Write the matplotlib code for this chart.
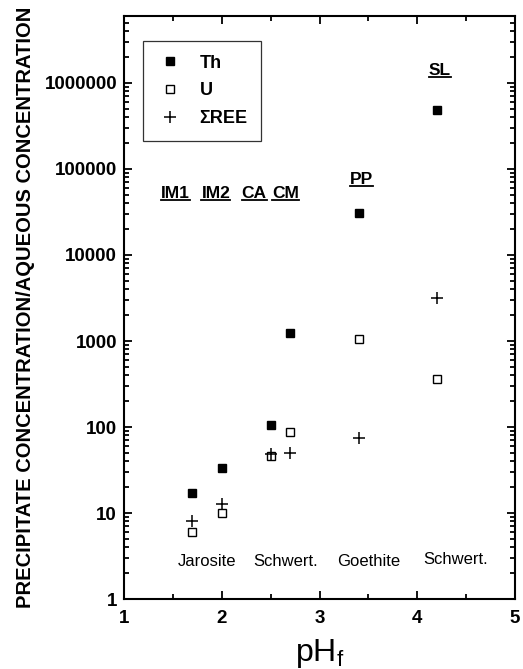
import matplotlib
matplotlib.use("Agg")
import matplotlib.pyplot as plt
from matplotlib.ticker import LogLocator, NullFormatter, FixedLocator
from matplotlib.lines import Line2D

plt.rcParams['font.family'] = ['Liberation Sans', 'DejaVu Sans']
plt.rcParams['mathtext.fontset'] = 'custom'
plt.rcParams['mathtext.rm'] = 'Liberation Sans'
plt.rcParams['mathtext.it'] = 'Liberation Sans:italic'
plt.rcParams['mathtext.bf'] = 'Liberation Sans:bold'

# Final pH of each sample
ph = [1.7, 2.0, 2.5, 2.7, 3.4, 4.2]
# Precipitate / aqueous concentration ratios
th = [17, 33, 106, 1250, 30500, 480000]
u = [6, 10, 46, 87, 1060, 363]
ree = [8.1, 12.7, 49, 50, 74, 3180]

sample_names = ["IM1", "IM2", "CA", "CM", "PP", "SL"]
sample_x = [1.53, 1.94, 2.33, 2.65, 3.43, 4.23]
sample_y = [52000, 52000, 52000, 52000, 76000, 1380000]

minerals = ["Jarosite", "Schwert.", "Goethite", "Schwert."]
mineral_x = [1.85, 2.65, 3.5, 4.39]
mineral_y = [2.72, 2.72, 2.72, 2.85]

fig = plt.figure(figsize=(5.23, 6.69), dpi=100)
ax = fig.add_axes([0.2371, 0.1046, 0.7476, 0.8714])

ax.plot(ph, th, linestyle='none', marker='s', markersize=5.8, color='black',
        markerfacecolor='black', label='Th')
ax.plot(ph, u, linestyle='none', marker='s', markersize=5.6, color='black',
        markerfacecolor='white', markeredgewidth=1.0, label='U')
ax.plot(ph, ree, linestyle='none', marker='+', markersize=9, color='black',
        markeredgewidth=1.1, label='\u03a3REE')

ax.set_yscale('log')
ax.set_xlim(1, 5)
ax.set_ylim(1, 6e6)

ax.xaxis.set_major_locator(FixedLocator([1, 2, 3, 4, 5]))
ax.xaxis.set_minor_locator(FixedLocator([1.5, 2.5, 3.5, 4.5]))
ax.yaxis.set_major_locator(LogLocator(base=10, numticks=20))
ax.yaxis.set_minor_locator(LogLocator(base=10, subs=range(2, 10), numticks=20))
ax.yaxis.set_minor_formatter(NullFormatter())
ax.set_yticks([1, 10, 100, 1000, 10000, 100000, 1000000])
ax.set_yticklabels(['1', '10', '100', '1000', '10000', '100000', '1000000'])

for s in ax.spines.values():
    s.set_linewidth(1.5)
ax.tick_params(which='both', direction='in', top=True, right=True, width=1.3)
ax.tick_params(which='major', length=6)
ax.tick_params(which='minor', length=3.5)
ax.tick_params(axis='both', which='major', labelsize=13.5)
ax.tick_params(axis='x', which='major', pad=8)
ax.tick_params(axis='y', which='major', pad=5)
for lab in ax.get_xticklabels() + ax.get_yticklabels():
    lab.set_fontweight('bold')

ax.set_xlabel('pH$_\\mathregular{f}$', fontsize=23, labelpad=7)
ax.set_ylabel('PRECIPITATE CONCENTRATION/AQUEOUS CONCENTRATION',
              fontsize=14.5, fontweight='bold', labelpad=7)

leg = ax.legend(loc='upper left', bbox_to_anchor=(0.048, 0.957),
                frameon=True, fancybox=False, edgecolor='black',
                prop={'weight': 'bold', 'size': 13}, handlelength=1.5,
                handletextpad=0.9, borderpad=0.75, labelspacing=0.6,
                borderaxespad=0)
leg.get_frame().set_linewidth(0.9)

name_texts = []
for name, x, y in zip(sample_names, sample_x, sample_y):
    t = ax.text(x, y, name, ha='center', va='center', fontsize=12.5,
                fontweight='bold')
    name_texts.append(t)

for name, x, y in zip(minerals, mineral_x, mineral_y):
    ax.text(x, y, name, ha='center', va='center', fontsize=12)

# underline the sample names
fig.canvas.draw()
renderer = fig.canvas.get_renderer()
inv = fig.transFigure.inverted()
for t in name_texts:
    bb = t.get_window_extent(renderer)
    (x0, y0) = inv.transform((bb.x0, bb.y0 + 1))
    (x1, _) = inv.transform((bb.x1, bb.y0 + 1))
    fig.add_artist(Line2D([x0, x1], [y0, y0], color='black', linewidth=1.3,
                          transform=fig.transFigure))

fig.savefig('out.png', dpi=100)
